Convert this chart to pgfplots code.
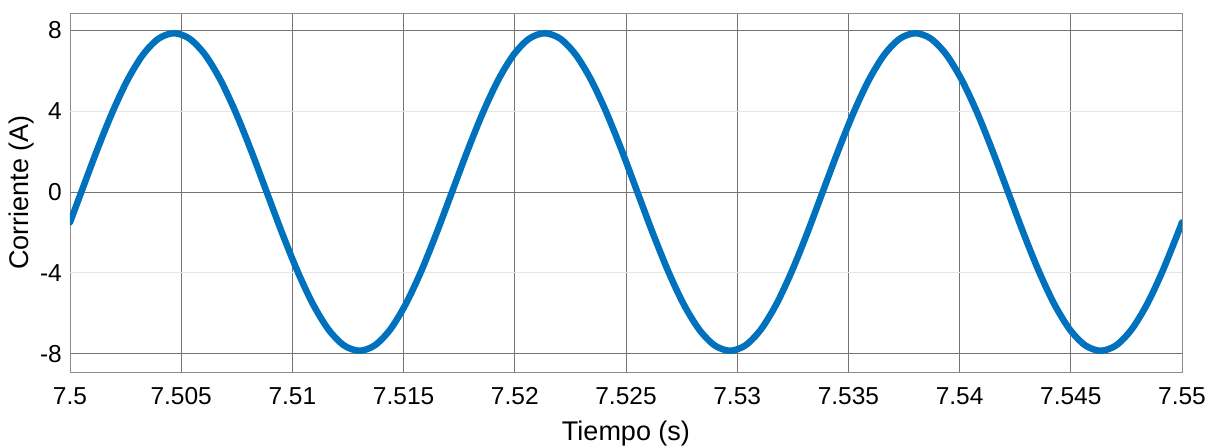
\documentclass[border=0pt]{standalone}
\usepackage{fontspec}
\setmainfont{Liberation Sans}
\usepackage{pgfplots}
\pgfplotsset{compat=1.18}
\definecolor{mblue}{HTML}{0072BD}
\begin{document}
\begin{tikzpicture}
\path[use as bounding box] (-70pt,-74pt) rectangle (1146pt,372pt);
\begin{axis}[
  at={(0pt,0pt)}, anchor=south west,
  scale only axis,
  width=1112pt, height=359pt,
  xmin=7.5, xmax=7.55,
  ymin=-8.9, ymax=8.85,
  xtick={7.5,7.505,7.51,7.515,7.52,7.525,7.53,7.535,7.54,7.545,7.55},
  xticklabels={7.5,7.505,7.51,7.515,7.52,7.525,7.53,7.535,7.54,7.545,7.55},
  ytick={-8,0,8},
  yticklabels={-8,0,8},
  extra y ticks={-4,4},
  extra y tick labels={-4,4},
  extra y tick style={grid style={color=black!10, line width=0.8pt}},
  xmajorgrids, ymajorgrids,
  grid style={color=black!55, line width=0.8pt},
  major tick length=0pt,
  axis line style={color=black!45, line width=0.8pt},
  tick label style={font=\fontsize{24.5}{28}\selectfont, text=black},
  /pgf/number format/assume math mode=true,
  xticklabel style={anchor=base, yshift=-33pt},
  yticklabel style={anchor=east, inner sep=0pt, xshift=-8pt},
  xlabel={Tiempo (s)},
  ylabel={Corriente (A)},
  label style={font=\fontsize{27}{31}\selectfont},
  xlabel style={at={(axis description cs:0.5,0)}, anchor=base, yshift=-69pt, inner sep=0pt},
  ylabel style={at={(axis description cs:-0.0432,0.5)}, anchor=center, inner sep=0pt},
]
\addplot[mblue, line width=6.5pt, smooth, line join=round, line cap=round] coordinates {
(7.5,-1.5)
(7.50051,0) (7.501204,2.032) (7.501899,3.925) (7.502593,5.551) (7.503288,6.798) (7.503982,7.583)
(7.504677,7.85) (7.505371,7.583) (7.506066,6.798) (7.506760,5.551) (7.507454,3.925) (7.508149,2.032)
(7.508843,0) (7.509538,-2.032) (7.510232,-3.925) (7.510927,-5.551) (7.511621,-6.798) (7.512316,-7.583)
(7.513010,-7.85) (7.513704,-7.583) (7.514399,-6.798) (7.515093,-5.551) (7.515788,-3.925) (7.516482,-2.032)
(7.517177,0) (7.517871,2.032) (7.518566,3.925) (7.519260,5.551) (7.519955,6.798) (7.520649,7.583)
(7.521343,7.85) (7.522038,7.583) (7.522732,6.798) (7.523427,5.551) (7.524121,3.925) (7.524816,2.032)
(7.525510,0) (7.526204,-2.032) (7.526899,-3.925) (7.527593,-5.551) (7.528288,-6.798) (7.528982,-7.583)
(7.529677,-7.85) (7.530371,-7.583) (7.531066,-6.798) (7.531760,-5.551) (7.532454,-3.925) (7.533149,-2.032)
(7.533843,0) (7.534538,2.032) (7.535232,3.925) (7.535927,5.551) (7.536621,6.798) (7.537316,7.583)
(7.538010,7.85) (7.538704,7.583) (7.539399,6.798) (7.540093,5.551) (7.540788,3.925) (7.541482,2.032)
(7.542177,0) (7.542871,-2.032) (7.543566,-3.925) (7.544260,-5.551) (7.544954,-6.798) (7.545649,-7.583)
(7.546343,-7.85) (7.547038,-7.583) (7.547732,-6.798) (7.548427,-5.551) (7.549121,-3.925) (7.549816,-2.032)
(7.55,-1.5)
};
\end{axis}
\end{tikzpicture}
\end{document}
